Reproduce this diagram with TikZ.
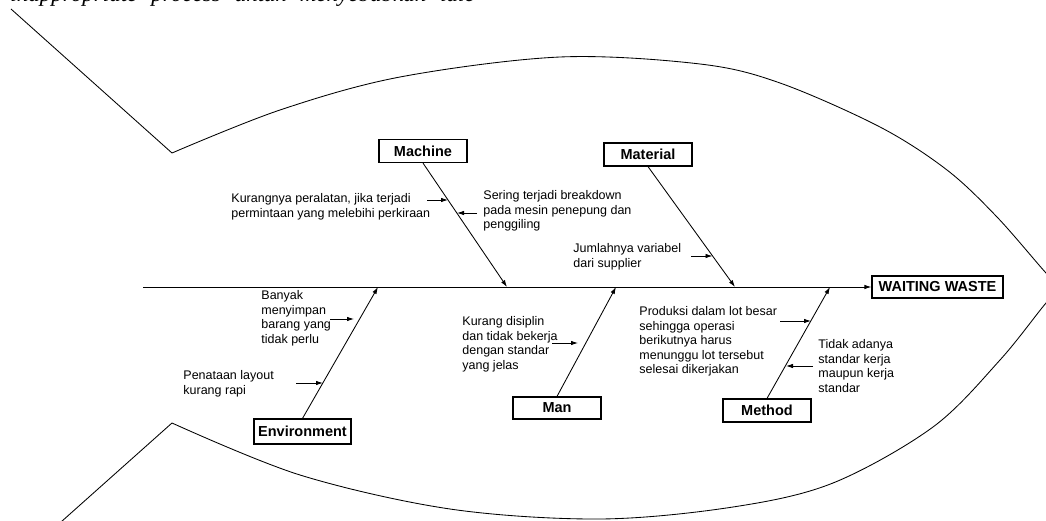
\documentclass[tikz,border=0pt]{standalone}
\usepackage{fontspec}
\setmainfont{Liberation Sans}
\newfontfamily\bodyserif{Liberation Serif}
\usetikzlibrary{arrows.meta}
\begin{document}
\begin{tikzpicture}[x=1pt,y=-1pt,line width=0.85pt,
  cat/.style={draw,line width=1.2pt,font=\fontsize{14.5}{17}\selectfont\bfseries,
    minimum width=88pt,minimum height=23pt,inner sep=0pt},
  cause/.style={font=\fontsize{12.5}{14.6}\selectfont,align=left,anchor=north west,inner sep=0pt},
  tip/.style={-{Latex[length=7pt,width=4.5pt]}},
]
\useasboundingbox (0,0) rectangle (1046,521);

% running text of the page, cut by the top edge
\node[font=\bodyserif\itshape\fontsize{23}{26}\selectfont,anchor=base west,inner sep=0pt] (pagetext) at (10,2)
  {inappropriate\hspace{14pt}process\hspace{14pt}untuk\hspace{14pt}menyebabkan\hspace{14pt}idle};

% fish outline
\draw (11,9) -- (172,153);
\draw (172,423) -- (52,530);
\draw plot[smooth,tension=0.55] coordinates {(172,153) (280,110) (400,77) (560,57) (700,64) (780,83)
  (880,127) (947,170) (997,217) (1046,273) (1062,288) (1046,303) (1000,360) (933,427) (833,483)
  (733,507) (600,519) (450,509) (300,475) (172,423)};

% effect and spine
\node[draw,line width=1.2pt,font=\fontsize{14.5}{17}\selectfont\bfseries,minimum width=131pt,
  minimum height=22pt,inner sep=0pt] (effect) at (937.5,287) {WAITING WASTE};
\coordinate (spinestart) at (143,287);
\draw[tip] (spinestart) -- (effect.west);

% category boxes
\node[cat] (machine) at (423,151) {Machine};
\node[cat] (material) at (648,154.5) {Material};
\node[cat,minimum width=97pt,minimum height=25pt] (environment) at (302.5,431.5) {Environment};
\node[cat,minimum height=22pt] (man) at (557,408) {Man};
\node[cat] (method) at (767,410.5) {Method};

% bones meeting the spine
\coordinate (machineend) at (507,287);
\coordinate (materialend) at (735,287);
\coordinate (environmentend) at (378,287);
\coordinate (manend) at (616,287);
\coordinate (methodend) at (830,287);
\draw[tip] (machine.south) -- (machineend);
\draw[tip] (material.south) -- (materialend);
\draw[tip] (environment.north) -- (environmentend);
\draw[tip] (man.north) -- (manend);
\draw[tip] (method.north) -- (methodend);

% causes
\node[cause] (c1) at (231,193) {Kurangnya peralatan, jika terjadi\\permintaan yang melebihi perkiraan};
\node[cause] (c2) at (483,190) {Sering terjadi breakdown\\pada mesin penepung dan\\penggiling};
\node[cause] (c3) at (573,243) {Jumlahnya variabel\\dari supplier};
\node[cause] (c4) at (261,290) {Banyak\\menyimpan\\barang yang\\tidak perlu};
\node[cause] (c5) at (183,370) {Penataan layout\\kurang rapi};
\node[cause] (c6) at (462,316) {Kurang disiplin\\dan tidak bekerja\\dengan standar\\yang jelas};
\node[cause] (c7) at (639,306) {Produksi dalam lot besar\\sehingga operasi\\berikutnya harus\\menunggu lot tersebut\\selesai dikerjakan};
\node[cause] (c8) at (818,339) {Tidak adanya\\standar kerja\\maupun kerja\\standar};

% cause arrows
\coordinate (a1s) at (427,200);   \coordinate (a1e) at (448,200);
\coordinate (a2s) at (477,213);   \coordinate (a2e) at (457,213);
\coordinate (a3s) at (691,256);   \coordinate (a3e) at (712.5,256);
\coordinate (a4s) at (330,319);   \coordinate (a4e) at (354,319);
\coordinate (a5s) at (296,383);   \coordinate (a5e) at (323,383);
\coordinate (a6s) at (552,343);   \coordinate (a6e) at (578,343);
\coordinate (a7s) at (780,321);   \coordinate (a7e) at (811,321);
\coordinate (a8s) at (813,366);   \coordinate (a8e) at (786,366);
\foreach \n in {1,...,8}{\draw[tip] (a\n s) -- (a\n e);}
\end{tikzpicture}
\end{document}
